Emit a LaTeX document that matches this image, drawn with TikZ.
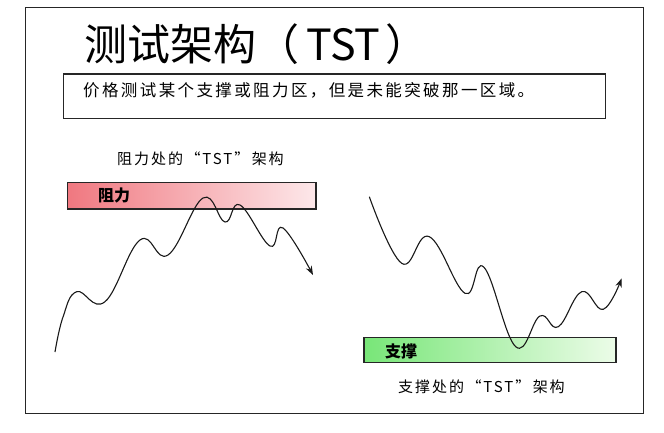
\documentclass[tikz,border=0pt]{standalone}
\usepackage{fontspec}
\setmainfont{Noto Sans CJK SC}
\newfontfamily\cjk{Noto Sans CJK SC}
\newfontfamily\cjkwide[LetterSpace=14.5]{Noto Sans CJK SC}
\newfontfamily\cjkmid[LetterSpace=13]{Noto Sans CJK SC}
\usetikzlibrary{arrows.meta}
\begin{document}
\begin{tikzpicture}[x=1pt,y=1pt,
  frame/.style={draw=black!85,line width=1.4pt},
  zonebox/.style={draw=black!85,line width=1.2pt},
  wave/.style={line width=1.1pt,black!90,-{Stealth[length=9pt,width=6.5pt]}},
  lbl/.style={inner sep=0pt,anchor=base west,font=\cjkmid\fontsize{15}{15}\selectfont},
]
\useasboundingbox (0,0) rectangle (664,432);
\fill[white] (0,0) rectangle (664,432);
% outer frame
\draw[frame] (25.5,18.5) rectangle (643.5,424.5);
% title
\node[inner sep=0pt,anchor=base west,font=\cjk\fontsize{43}{43}\selectfont] (title) at (84,371) {测试架构（\hspace{7pt}TST\hspace{5pt}）};
% subtitle box
\draw[zonebox] (63.5,313.7) rectangle (605.5,358);
\node[lbl,font=\cjkwide\fontsize{16.5}{16.5}\selectfont] (sub) at (83,335) {价格测试某个支撑或阻力区，但是未能突破那一区域。};
% resistance
\node[lbl] (rlabel) at (117,267.5) {阻力处的\,“TST”\,架构};
\shade[left color={rgb,255:red,240;green,120;blue,128}, right color={rgb,255:red,253;green,232;blue,234}] (67.7,223) rectangle (316,249.3);
\draw[zonebox] (67.7,223) rectangle (316,249.3);
\node[lbl,font=\cjk\bfseries\fontsize{16}{16}\selectfont] (rzone) at (98,231) {阻力};
% left wave
\draw[wave] plot[smooth,tension=0.7] coordinates {(55,80) (63,115) (76.7,140.3) (105,130.3) (140,192) (168,177) (203,234) (225,210) (240,227) (270,186) (283,204) (313,157)};
% support
\shade[left color={rgb,255:red,120;green,230;blue,120}, right color={rgb,255:red,236;green,252;blue,232}] (364,69.3) rectangle (616,94.7);
\draw[zonebox] (364,69.3) rectangle (616,94.7);
\node[lbl,font=\cjk\bfseries\fontsize{16}{16}\selectfont] (szone) at (385,74.5) {支撑};
\node[lbl] (slabel) at (398,39.5) {支撑处的\,“TST”\,架构};
% right wave
\draw[wave] plot[smooth,tension=0.7] coordinates {(369.3,235.3) (401.7,168.7) (429.3,195.3) (465,138.7) (484,164.7) (515.7,85.3) (540,116) (558.3,105.3) (581.7,140.3) (603.3,122.7) (621.7,153.7)};
\end{tikzpicture}
\end{document}
